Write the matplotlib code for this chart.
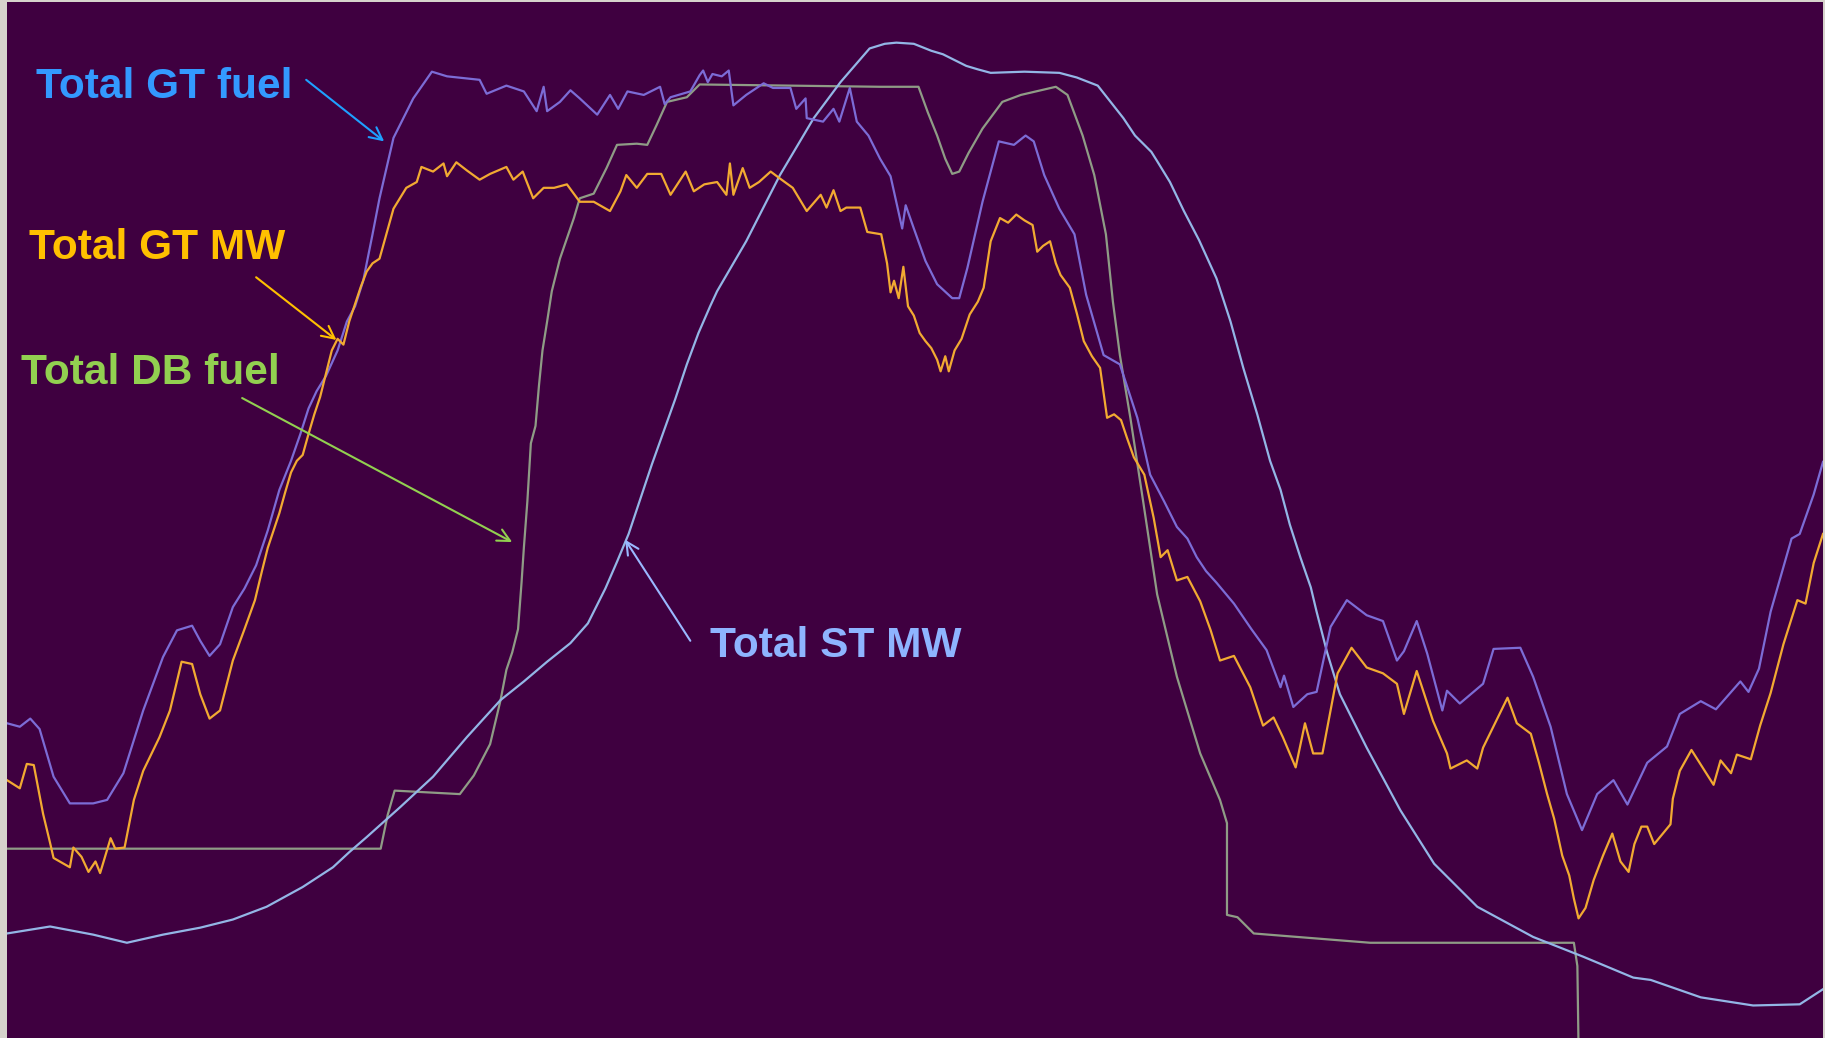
#!/usr/bin/env python3
"""Combined-cycle plant trend: GT fuel, GT MW, DB fuel and ST MW over one run."""
import numpy as np
import matplotlib
matplotlib.use("Agg")
import matplotlib.pyplot as plt

# trend readings as (sample position, screen reading); reading 0 = top of the trend window
GT_FUEL = [(6, 621), (17, 624), (26, 617), (34, 626), (46, 667), (60, 690), (80, 690), (92, 687),
           (106, 664), (123, 610), (140, 564), (152, 541), (165, 537), (172, 550), (180, 563),
           (189, 553), (200, 521), (210, 505), (220, 485), (230, 455), (240, 420), (250, 395),
           (258, 372), (265, 350), (272, 335), (280, 322), (290, 300), (298, 275), (305, 262),
           (312, 240), (320, 200), (326, 169), (338, 117), (355, 83), (371, 60), (384, 64),
           (412, 67), (418, 79), (435, 72), (450, 77), (461, 94), (467, 73), (470, 94), (481, 86),
           (490, 76), (498, 83), (513, 97), (524, 80), (531, 92), (539, 77), (553, 80), (567, 73),
           (571, 88), (576, 82), (593, 77), (601, 63), (604, 59), (608, 69), (612, 62), (620, 64),
           (626, 59), (630, 89), (641, 80), (656, 70), (664, 74), (679, 74), (684, 92), (692, 83),
           (693, 100), (707, 103), (716, 92), (721, 103), (730, 74), (736, 103), (746, 115),
           (756, 135), (765, 150), (775, 195), (778, 175), (785, 195), (795, 223), (805, 243),
           (818, 255), (824, 255), (831, 229), (844, 172), (858, 120), (871, 123), (881, 115),
           (888, 120), (897, 149), (910, 178), (923, 200), (933, 252), (948, 304), (962, 312),
           (977, 358), (988, 407), (1000, 430), (1011, 452), (1020, 462), (1028, 478),
           (1036, 490), (1045, 500), (1060, 518), (1075, 540), (1088, 558), (1100, 590),
           (1103, 580), (1111, 607), (1123, 596), (1131, 594), (1143, 538), (1157, 515),
           (1174, 528), (1188, 533), (1200, 567), (1206, 559), (1217, 533), (1226, 561),
           (1239, 610), (1243, 593), (1254, 604), (1274, 587), (1283, 557), (1306, 556),
           (1317, 581), (1332, 624), (1346, 682), (1359, 713), (1372, 682), (1386, 670),
           (1398, 691), (1415, 655), (1432, 641), (1443, 613), (1461, 602), (1474, 609),
           (1495, 585), (1502, 594), (1511, 574), (1521, 525), (1531, 490), (1539, 462),
           (1546, 458), (1558, 424), (1566, 396)]

GT_MW = [(6, 670), (17, 677), (23, 656), (29, 657), (37, 699), (43, 724), (46, 737), (60, 745),
         (63, 728), (70, 736), (76, 749), (82, 740), (86, 750), (95, 720), (99, 729), (107, 728),
         (115, 687), (123, 662), (137, 633), (146, 610), (156, 568), (165, 570), (172, 596),
         (180, 617), (189, 610), (200, 567), (210, 540), (219, 515), (225, 490), (230, 470),
         (235, 455), (240, 440), (245, 422), (250, 405), (255, 395), (260, 390), (265, 372),
         (270, 355), (275, 340), (280, 320), (285, 300), (290, 290), (295, 295), (300, 275),
         (305, 260), (310, 245), (315, 232), (320, 225), (326, 221), (338, 178), (349, 160),
         (358, 155), (362, 142), (372, 146), (381, 139), (384, 150), (392, 138), (401, 145),
         (412, 153), (421, 148), (435, 142), (441, 153), (449, 146), (458, 169), (467, 160),
         (476, 160), (487, 157), (498, 172), (510, 172), (524, 180), (533, 163), (538, 149),
         (547, 160), (556, 148), (568, 148), (576, 166), (589, 146), (596, 163), (605, 157),
         (616, 155), (624, 166), (627, 139), (630, 166), (638, 143), (644, 160), (652, 155),
         (662, 146), (670, 152), (681, 160), (693, 180), (705, 166), (710, 177), (716, 162),
         (722, 180), (727, 177), (739, 177), (745, 198), (757, 200), (762, 225), (765, 250),
         (768, 240), (772, 255), (776, 228), (780, 262), (785, 270), (790, 285), (795, 292),
         (800, 298), (805, 308), (808, 318), (812, 305), (815, 318), (820, 300), (826, 290),
         (833, 269), (840, 258), (845, 246), (851, 206), (859, 186), (866, 190), (873, 183),
         (880, 188), (887, 192), (891, 215), (896, 210), (902, 206), (907, 225), (911, 235),
         (919, 246), (925, 268), (931, 292), (938, 305), (945, 315), (951, 358), (957, 355),
         (963, 360), (968, 375), (974, 392), (983, 407), (991, 444), (997, 478), (1003, 472),
         (1011, 498), (1020, 495), (1031, 516), (1040, 541), (1048, 567), (1060, 563),
         (1074, 590), (1085, 623), (1094, 616), (1102, 633), (1113, 659), (1121, 621),
         (1128, 647), (1136, 647), (1149, 578), (1161, 556), (1174, 573), (1188, 578),
         (1200, 587), (1206, 613), (1217, 576), (1231, 619), (1243, 647), (1246, 660),
         (1260, 653), (1269, 660), (1274, 642), (1295, 599), (1303, 621), (1315, 630),
         (1322, 655), (1329, 682), (1335, 703), (1342, 735), (1348, 752), (1352, 772),
         (1356, 789), (1362, 780), (1369, 756), (1377, 735), (1385, 716), (1392, 740),
         (1399, 749), (1404, 725), (1410, 710), (1415, 710), (1421, 725), (1435, 708),
         (1437, 686), (1443, 662), (1453, 644), (1472, 674), (1478, 653), (1487, 664),
         (1492, 648), (1504, 652), (1512, 623), (1521, 595), (1532, 553), (1544, 515),
         (1551, 518), (1558, 483), (1566, 458)]

DB_FUEL = [(6, 729), (327, 729), (333, 700), (339, 679), (395, 682), (407, 666), (421, 639),
           (430, 601), (435, 575), (440, 560), (445, 540), (448, 500), (450, 470), (453, 430),
           (456, 380), (460, 365), (463, 330), (466, 300), (470, 275), (474, 249), (481, 221),
           (493, 186), (498, 169), (510, 165), (521, 143), (530, 123), (547, 122), (556, 123),
           (564, 106), (573, 86), (590, 82), (601, 71), (756, 73), (789, 73), (797, 95),
           (805, 115), (812, 135), (818, 148), (824, 146), (832, 130), (844, 109), (861, 86),
           (877, 80), (907, 73), (917, 80), (930, 115), (940, 149), (950, 200), (956, 258),
           (962, 304), (971, 358), (982, 430), (988, 470), (994, 510), (1011, 581), (1031, 647),
           (1048, 687), (1054, 707), (1054, 786), (1063, 788), (1077, 802), (1177, 810),
           (1352, 810), (1355, 830), (1356, 900)]

ST_MW = [(6, 802), (43, 796), (80, 803), (109, 810), (140, 803), (172, 797), (200, 790),
         (229, 779), (260, 762), (286, 745), (300, 732), (315, 719), (344, 693), (372, 667),
         (401, 633), (430, 601), (450, 585), (470, 568), (490, 552), (505, 535), (520, 505),
         (530, 482), (540, 458), (550, 428), (560, 398), (570, 370), (580, 342), (590, 312),
         (600, 285), (610, 262), (616, 249), (641, 206), (670, 149), (699, 100), (722, 69),
         (747, 40), (760, 36), (770, 35), (785, 36), (800, 42), (810, 45), (820, 50), (830, 55),
         (840, 58), (851, 61), (880, 60), (910, 61), (925, 65), (943, 72), (954, 86), (965, 100),
         (975, 115), (989, 129), (994, 137), (1005, 155), (1017, 180), (1030, 205), (1045, 238),
         (1057, 275), (1068, 315), (1080, 355), (1091, 395), (1100, 420), (1108, 450),
         (1117, 478), (1126, 504), (1131, 525), (1140, 560), (1151, 596), (1174, 642),
         (1203, 696), (1232, 742), (1269, 779), (1317, 805), (1360, 822), (1403, 840),
         (1418, 842), (1461, 857), (1506, 864), (1546, 863), (1566, 850)]

SERIES = [
    ("Total DB fuel", DB_FUEL, "#8f9c86"),
    ("Total ST MW", ST_MW, "#93b6e6"),
    ("Total GT fuel", GT_FUEL, "#7c6cd6"),
    ("Total GT MW", GT_MW, "#f2aa32"),
]

# label text, text anchor (left, baseline), arrow tail, arrow tip, text colour, arrow colour
LABELS = [
    ("Total GT fuel", (31, 83), (263, 67), (330, 120), "#3399ff", "#1ea0ff"),
    ("Total GT MW", (25, 221), (220, 237), (289, 291), "#ffc000", "#ffc000"),
    ("Total DB fuel", (18, 329), (208, 341), (440, 465), "#92d050", "#92d050"),
    ("Total ST MW", (610, 564), (593, 550), (537, 463), "#8eb4ff", "#9ab8ff"),
]


def main():
    fig = plt.figure(figsize=(18.25, 10.38), dpi=100, facecolor="#d6d3cc")
    left, top = 7 / 1825, 2 / 1038
    ax = fig.add_axes([left, 0, 1 - left - 2 / 1825, 1 - top])
    ax.set_facecolor("#3f0040")

    for name, pts, color in SERIES:
        xs, ys = np.array(pts).T
        ax.plot(xs, ys, color=color, lw=1.6, label=name)

    for text, pos, tail, tip, tcol, acol in LABELS:
        ax.text(pos[0], pos[1], text, color=tcol, fontsize=30.5, fontweight="bold",
                family="Liberation Sans", ha="left", va="baseline")
        ax.annotate("", xy=tip, xytext=tail,
                    arrowprops=dict(arrowstyle="->,head_length=0.9,head_width=0.45",
                                    color=acol, lw=1.5, shrinkA=0, shrinkB=0))

    ax.set_xlim(6, 1566)
    ax.set_ylim(892, 0)
    ax.set_xticks([])
    ax.set_yticks([])
    for side in ax.spines.values():
        side.set_visible(False)

    fig.savefig("out.png", dpi=100, facecolor=fig.get_facecolor())


if __name__ == "__main__":
    main()
